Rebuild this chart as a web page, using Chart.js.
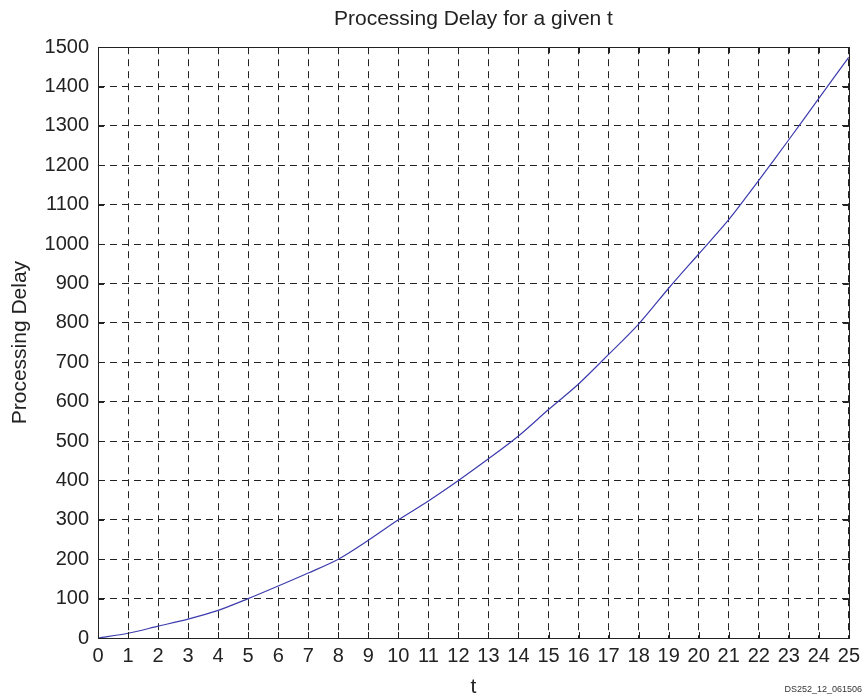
<!DOCTYPE html>
<html>
<head>
<meta charset="utf-8">
<script src="https://cdn.jsdelivr.net/npm/chart.js@4/dist/chart.umd.min.js"></script>
<style>
  html, body { margin: 0; padding: 0; background: #fff; }
  #wrap { width: 866px; height: 698px; }
</style>
</head>
<body>
<div id="wrap"><canvas id="chart" width="866" height="698"></canvas></div>
<script>
const tValues = [0, 1, 2, 3, 4, 5, 6, 7, 8, 9, 10, 11, 12, 13, 14, 15, 16, 17, 18, 19, 20, 21, 22, 23, 24, 25];
const delayValues = [0, 12, 30, 48, 70, 100, 132, 165, 200, 248, 300, 348, 400, 455, 513, 580, 645, 720, 797, 888, 975, 1062, 1162, 1265, 1370, 1475];
const chartTitle = "Processing Delay for a given t";
const xLabel = "t";
const yLabel = "Processing Delay";
const footnote = "DS252_12_061506";

const ink = "#222";
const fontFamily = "'Liberation Sans', Arial, sans-serif";
const points = [];
for (let i = 0; i < tValues.length; i++) {
    points.push({ x: tValues[i], y: delayValues[i] });
}

// frame round the plot plus matlab-style inward ticks, and the small id text
const framePlugin = {
    id: "frame",
    afterDraw(chart) {
        const ctx = chart.ctx;
        const area = chart.chartArea;
        const xs = chart.scales.x;
        const ys = chart.scales.y;
        const tick = 6;
        ctx.save();
        ctx.strokeStyle = ink;
        ctx.lineWidth = 1;
        ctx.setLineDash([]);
        ctx.beginPath();
        xs.ticks.forEach(function (t) {
            const px = Math.round(xs.getPixelForValue(t.value)) + 0.5;
            ctx.moveTo(px, area.bottom);
            ctx.lineTo(px, area.bottom - tick);
            ctx.moveTo(px, area.top);
            ctx.lineTo(px, area.top + tick);
        });
        ys.ticks.forEach(function (t) {
            const py = Math.round(ys.getPixelForValue(t.value)) + 0.5;
            ctx.moveTo(area.left, py);
            ctx.lineTo(area.left + tick, py);
            ctx.moveTo(area.right, py);
            ctx.lineTo(area.right - tick, py);
        });
        ctx.stroke();
        ctx.strokeRect(Math.round(area.left) + 0.5, Math.round(area.top) + 0.5,
            Math.round(area.right - area.left), Math.round(area.bottom - area.top));

        ctx.fillStyle = "#333";
        ctx.font = "9px " + fontFamily;
        ctx.textAlign = "right";
        ctx.textBaseline = "middle";
        ctx.fillText(footnote, chart.width - 4, chart.height - 8);
        ctx.restore();
    }
};

const chart = new Chart(document.getElementById("chart").getContext("2d"), {
    type: "line",
    data: {
        datasets: [{
            label: yLabel,
            data: points,
            borderColor: "#3c3cae",
            borderWidth: 1.2,
            pointRadius: 0,
            tension: 0.3,
            fill: false,
        }],
    },
    options: {
        responsive: false,
        animation: false,
        layout: { padding: { left: 0, right: 17, top: 0, bottom: 0 } },
        plugins: {
            legend: { display: false },
            tooltip: { enabled: false },
            title: {
                display: true,
                fullSize: false,
                text: chartTitle,
                color: ink,
                font: { family: fontFamily, size: 21, weight: "normal", lineHeight: 1.2 },
                padding: { top: 7, bottom: 15 },
            },
        },
        scales: {
            x: {
                type: "linear",
                min: 0,
                max: 25,
                afterFit(scale) { scale.height = 60; },
                ticks: {
                    stepSize: 1,
                    color: ink,
                    padding: 6,
                    maxRotation: 0,
                    autoSkip: false,
                    font: { family: fontFamily, size: 20 },
                    callback: (v) => String(v),
                },
                grid: { color: ink, lineWidth: 1, drawTicks: false },
                border: { display: false, dash: [7, 5] },
                title: {
                    display: true,
                    text: xLabel,
                    color: ink,
                    padding: 0,
                    font: { family: fontFamily, size: 21, lineHeight: 1 },
                },
            },
            y: {
                min: 0,
                max: 1500,
                afterFit(scale) { scale.width = 98; },
                ticks: {
                    stepSize: 100,
                    color: ink,
                    padding: 9,
                    autoSkip: false,
                    font: { family: fontFamily, size: 20 },
                    callback: (v) => String(v),
                },
                grid: { color: ink, lineWidth: 1, drawTicks: false },
                border: { display: false, dash: [7, 5] },
                title: {
                    display: true,
                    text: yLabel,
                    color: ink,
                    padding: { top: 8, bottom: 0 },
                    font: { family: fontFamily, size: 21, lineHeight: 1.2 },
                },
            },
        },
    },
    plugins: [framePlugin],
});
</script>
</body>
</html>
